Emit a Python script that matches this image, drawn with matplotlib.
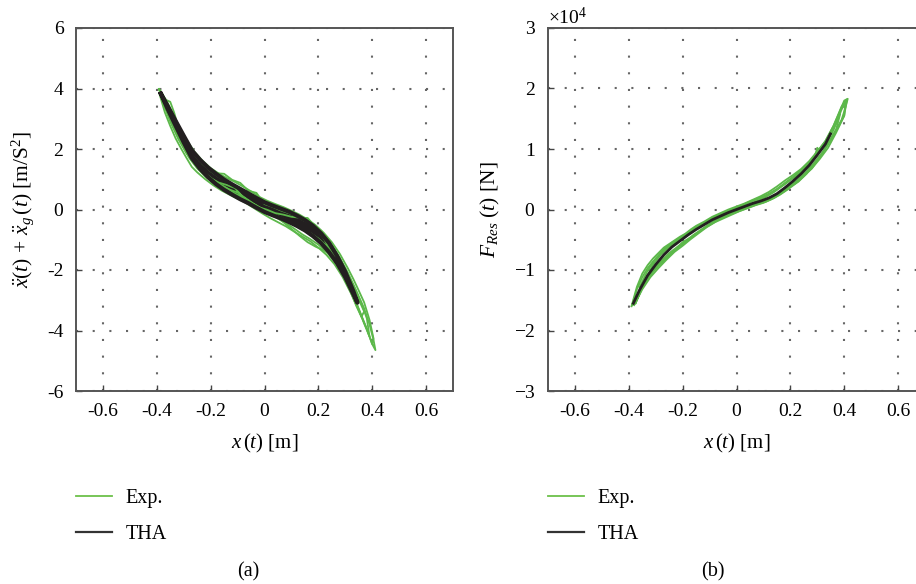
import numpy as np
import matplotlib
matplotlib.use("Agg")
import matplotlib.pyplot as plt
from matplotlib.lines import Line2D

# ---- data ----
# (a) acceleration loops [m/s^2] vs displacement [m]
tha_a_x = [-0.385, -0.36, -0.33, -0.30, -0.27, -0.24, -0.21, -0.18, -0.15, -0.12, -0.09, -0.06, -0.03,
           0.0, 0.03, 0.06, 0.09, 0.12, 0.15, 0.18, 0.21, 0.24, 0.27, 0.30, 0.33, 0.345]
tha_a_up = [3.83, 3.43, 2.93, 2.44, 1.96, 1.65, 1.39, 1.18, 0.99, 0.83, 0.68, 0.53, 0.38,
            0.24, 0.13, 0.03, -0.07, -0.20, -0.35, -0.54, -0.79, -1.11, -1.54, -2.06, -2.70, -3.08]
tha_a_lo = [3.83, 3.33, 2.77, 2.22, 1.70, 1.35, 1.07, 0.84, 0.65, 0.49, 0.34, 0.21, 0.06,
            -0.08, -0.19, -0.29, -0.41, -0.54, -0.69, -0.88, -1.11, -1.41, -1.78, -2.24, -2.80, -3.08]

exp_a1_x = [-0.392, -0.37, -0.34, -0.31, -0.28, -0.25, -0.22, -0.19, -0.16, -0.13, -0.10, -0.07, -0.04, -0.01,
            0.02, 0.05, 0.08, 0.11, 0.14, 0.17, 0.20, 0.23, 0.26, 0.29, 0.32, 0.35, 0.38, 0.40, 0.412,
            0.405, 0.39, 0.37, 0.34, 0.31, 0.28, 0.25, 0.22, 0.19, 0.16, 0.13, 0.10, 0.07, 0.04, 0.01,
            -0.02, -0.05, -0.08, -0.11, -0.14, -0.17, -0.20, -0.23, -0.26, -0.29, -0.32, -0.35, -0.38, -0.392]
exp_a1_y = [3.98, 3.36, 2.75, 2.20, 1.71, 1.36, 1.10, 0.88, 0.70, 0.56, 0.44, 0.32, 0.17, 0.01,
            -0.15, -0.30, -0.45, -0.63, -0.82, -0.98, -1.16, -1.40, -1.71, -2.13, -2.65, -3.28, -3.95, -4.45, -4.65,
            -4.32, -3.80, -3.27, -2.67, -2.10, -1.60, -1.18, -0.87, -0.62, -0.43, -0.28, -0.15, -0.02, 0.10, 0.22,
            0.35, 0.52, 0.66, 0.79, 0.92, 1.08, 1.27, 1.51, 1.83, 2.24, 2.76, 3.29, 3.84, 3.98]

exp_a2_x = [-0.375, -0.35, -0.32, -0.29, -0.26, -0.23, -0.20, -0.17, -0.14, -0.11, -0.08, -0.05, -0.02, 0.01,
            0.04, 0.07, 0.10, 0.13, 0.16, 0.19, 0.22, 0.25, 0.28, 0.31, 0.34, 0.37, 0.39,
            0.38, 0.36, 0.33, 0.30, 0.27, 0.24, 0.21, 0.18, 0.15, 0.12, 0.09, 0.06, 0.03, 0.0,
            -0.03, -0.06, -0.09, -0.12, -0.15, -0.18, -0.21, -0.24, -0.27, -0.30, -0.33, -0.36, -0.375]
exp_a2_y = [3.55, 2.91, 2.33, 1.86, 1.51, 1.26, 1.05, 0.86, 0.71, 0.53, 0.41, 0.22, 0.05, -0.06,
            -0.22, -0.42, -0.64, -0.87, -1.08, -1.23, -1.35, -1.53, -1.87, -2.55, -3.07, -3.77, -4.20,
            -3.60, -3.10, -2.50, -1.95, -1.48, -1.05, -0.70, -0.47, -0.34, -0.22, -0.12, -0.03, 0.09, 0.18,
            0.55, 0.62, 0.88, 0.98, 1.18, 1.20, 1.40, 1.60, 1.93, 2.41, 2.95, 3.53, 3.70]

exp_a3_x = [-0.385, -0.365, -0.35, -0.335, -0.31, -0.28, -0.25, -0.22, -0.19, -0.16, -0.13, -0.10, -0.07, -0.04,
            -0.01, 0.02, 0.05, 0.08, 0.11, 0.14, 0.17, 0.20, 0.23, 0.26, 0.29, 0.32, 0.35, 0.37,
            0.36, 0.34, 0.31, 0.28, 0.25, 0.22, 0.19, 0.16, 0.13, 0.10, 0.07, 0.04, 0.01,
            -0.02, -0.05, -0.08, -0.11, -0.14, -0.17, -0.20, -0.23, -0.26, -0.29, -0.32, -0.35, -0.38]
exp_a3_y = [3.88, 3.62, 3.56, 3.19, 2.40, 1.79, 1.43, 1.17, 0.96, 0.78, 0.66, 0.56, 0.37, 0.19,
            0.03, -0.10, -0.22, -0.35, -0.51, -0.67, -0.78, -0.96, -1.20, -1.51, -1.88, -2.40, -2.98, -3.37,
            -3.55, -3.17, -2.50, -1.92, -1.43, -0.95, -0.58, -0.28, -0.27, -0.24, -0.17, -0.12, -0.01,
            0.07, 0.22, 0.41, 0.71, 0.81, 0.89, 1.03, 1.26, 1.53, 1.91, 2.46, 3.03, 3.64]

exp_a4_x = [-0.39, -0.37, -0.35, -0.33, -0.31, -0.29, -0.27, -0.25, -0.22, -0.19, -0.16, -0.13, -0.10, -0.07,
            -0.04, -0.01, 0.02, 0.05, 0.08, 0.11, 0.14, 0.17, 0.20, 0.23, 0.26, 0.29, 0.32, 0.35, 0.38, 0.40,
            0.405, 0.39, 0.37, 0.35, 0.33, 0.31, 0.28, 0.25, 0.22, 0.19, 0.16, 0.13, 0.10, 0.07, 0.04, 0.01,
            -0.02, -0.05, -0.08, -0.11, -0.14, -0.17, -0.20, -0.23, -0.26, -0.29, -0.32, -0.35, -0.37, -0.39]
exp_a4_y = [3.82, 3.21, 2.76, 2.35, 2.02, 1.71, 1.41, 1.23, 1.00, 0.80, 0.63, 0.49, 0.36, 0.22,
            0.05, -0.12, -0.28, -0.42, -0.56, -0.73, -0.89, -1.05, -1.26, -1.50, -1.81, -2.23, -2.75, -3.33, -3.95, -4.45,
            -4.27, -3.65, -3.07, -2.68, -2.30, -1.95, -1.47, -1.08, -0.77, -0.52, -0.33, -0.17, -0.04, 0.08, 0.18, 0.29,
            0.42, 0.60, 0.76, 0.91, 1.04, 1.19, 1.37, 1.61, 1.91, 2.31, 2.80, 3.31, 3.66, 3.97]

# (b) restoring force loops [x1e4 N] vs displacement [m]
tha_b_x = [-0.383, -0.36, -0.33, -0.30, -0.27, -0.24, -0.21, -0.18, -0.15, -0.12, -0.09, -0.06, -0.03,
           0.0, 0.03, 0.06, 0.09, 0.12, 0.15, 0.18, 0.21, 0.24, 0.27, 0.30, 0.33, 0.349]
tha_b_y = [-1.55, -1.33, -1.09, -0.91, -0.75, -0.62, -0.52, -0.42, -0.33, -0.25, -0.17, -0.11, -0.05,
           0.0, 0.05, 0.10, 0.14, 0.19, 0.26, 0.36, 0.47, 0.59, 0.73, 0.90, 1.08, 1.25]

exp_b1_x = [-0.387, -0.37, -0.35, -0.33, -0.31, -0.29, -0.27, -0.25, -0.23, -0.21, -0.19, -0.17, -0.15, -0.12,
            -0.09, -0.06, -0.03, 0.0, 0.03, 0.06, 0.09, 0.12, 0.15, 0.18, 0.21, 0.24, 0.27, 0.30, 0.33, 0.36,
            0.38, 0.40, 0.413,
            0.405, 0.39, 0.37, 0.35, 0.32, 0.29, 0.26, 0.23, 0.20, 0.17, 0.14, 0.11, 0.08, 0.05, 0.02, -0.01,
            -0.04, -0.07, -0.10, -0.13, -0.16, -0.19, -0.22, -0.25, -0.28, -0.31, -0.34, -0.37, -0.387]
exp_b1_y = [-1.58, -1.32, -1.12, -0.97, -0.86, -0.77, -0.68, -0.61, -0.55, -0.48, -0.43, -0.36, -0.29, -0.22,
            -0.14, -0.08, -0.02, 0.03, 0.09, 0.15, 0.20, 0.26, 0.34, 0.44, 0.54, 0.65, 0.78, 0.95, 1.13, 1.38,
            1.58, 1.80, 1.83,
            1.69, 1.48, 1.32, 1.17, 0.95, 0.77, 0.59, 0.46, 0.38, 0.28, 0.19, 0.13, 0.09, 0.04, -0.01, -0.06,
            -0.11, -0.18, -0.26, -0.34, -0.44, -0.54, -0.64, -0.75, -0.87, -1.02, -1.21, -1.46, -1.58]

exp_b2_x = [-0.375, -0.355, -0.335, -0.31, -0.28, -0.25, -0.22, -0.19, -0.16, -0.13, -0.10, -0.07, -0.04, -0.01,
            0.02, 0.05, 0.08, 0.11, 0.14, 0.17, 0.20, 0.23, 0.26, 0.29, 0.30, 0.31, 0.33, 0.36, 0.385,
            0.37, 0.34, 0.31, 0.28, 0.25, 0.22, 0.19, 0.16, 0.13, 0.10, 0.07, 0.04, 0.01,
            -0.02, -0.05, -0.08, -0.11, -0.14, -0.17, -0.20, -0.23, -0.26, -0.29, -0.32, -0.35, -0.375]
exp_b2_y = [-1.55, -1.34, -1.13, -0.91, -0.74, -0.62, -0.52, -0.45, -0.35, -0.25, -0.18, -0.11, -0.07, -0.02,
            0.03, 0.09, 0.15, 0.21, 0.29, 0.39, 0.49, 0.58, 0.71, 0.87, 1.02, 0.96, 1.08, 1.33, 1.58,
            1.32, 1.08, 0.87, 0.68, 0.56, 0.46, 0.34, 0.25, 0.18, 0.14, 0.10, 0.04, 0.0,
            -0.06, -0.13, -0.18, -0.27, -0.37, -0.46, -0.54, -0.67, -0.81, -0.93, -1.08, -1.29, -1.55]

exp_b3_x = [-0.36, -0.33, -0.30, -0.27, -0.24, -0.21, -0.18, -0.15, -0.12, -0.09, -0.06, -0.03, 0.0,
            0.03, 0.06, 0.09, 0.12, 0.15, 0.18, 0.21, 0.24, 0.27, 0.30, 0.33, 0.36, 0.39, 0.41,
            0.40, 0.38, 0.35, 0.32, 0.29, 0.26, 0.23, 0.20, 0.17, 0.14, 0.11, 0.08, 0.05, 0.02,
            -0.01, -0.04, -0.07, -0.10, -0.13, -0.16, -0.19, -0.22, -0.25, -0.28, -0.31, -0.34, -0.36]
exp_b3_y = [-1.28, -1.01, -0.81, -0.66, -0.55, -0.47, -0.38, -0.30, -0.23, -0.15, -0.09, -0.03, 0.02,
            0.08, 0.14, 0.19, 0.25, 0.33, 0.42, 0.52, 0.63, 0.76, 0.92, 1.08, 1.31, 1.65, 1.82,
            1.55, 1.38, 1.15, 0.94, 0.78, 0.63, 0.50, 0.40, 0.30, 0.21, 0.14, 0.11, 0.06, 0.01,
            -0.04, -0.10, -0.16, -0.24, -0.33, -0.42, -0.53, -0.62, -0.72, -0.85, -1.00, -1.20, -1.38]

exp_b4_x = [-0.39, -0.37, -0.35, -0.33, -0.31, -0.29, -0.27, -0.25, -0.23, -0.21, -0.19, -0.17, -0.15, -0.12,
            -0.09, -0.06, -0.03, 0.0, 0.03, 0.06, 0.09, 0.12, 0.15, 0.18, 0.21, 0.24, 0.27, 0.30, 0.33, 0.36,
            0.39, 0.405,
            0.40, 0.37, 0.34, 0.31, 0.28, 0.25, 0.22, 0.19, 0.16, 0.13, 0.10, 0.07, 0.04, 0.01,
            -0.02, -0.05, -0.08, -0.11, -0.14, -0.17, -0.20, -0.23, -0.26, -0.29, -0.32, -0.35, -0.38]
exp_b4_y = [-1.60, -1.28, -1.06, -0.92, -0.81, -0.72, -0.63, -0.57, -0.51, -0.45, -0.40, -0.33, -0.27, -0.20,
            -0.12, -0.06, 0.0, 0.05, 0.10, 0.16, 0.22, 0.29, 0.38, 0.48, 0.57, 0.67, 0.80, 0.96, 1.13, 1.38,
            1.70, 1.80,
            1.55, 1.27, 1.02, 0.84, 0.68, 0.55, 0.43, 0.33, 0.24, 0.17, 0.11, 0.07, 0.02, -0.03,
            -0.09, -0.15, -0.21, -0.29, -0.39, -0.49, -0.60, -0.70, -0.83, -0.97, -1.12, -1.32, -1.58]

F_SCALE = 1e4
x_ticks = [-0.6, -0.4, -0.2, 0, 0.2, 0.4, 0.6]
x_ticklabels = ["-0.6", "-0.4", "-0.2", "0", "0.2", "0.4", "0.6"]
ya_ticks = [-6, -4, -2, 0, 2, 4, 6]
yb_ticks = [-3, -2, -1, 0, 1, 2, 3]

# ---- style ----
plt.rcParams["font.family"] = ["Liberation Serif", "DejaVu Serif"]
plt.rcParams["mathtext.fontset"] = "custom"
plt.rcParams["mathtext.rm"] = "Liberation Serif"
plt.rcParams["mathtext.it"] = "Liberation Serif:italic"
plt.rcParams["axes.unicode_minus"] = False
plt.rcParams["font.size"] = 14

GREEN = "#5cb84a"
BLACK = "#231f20"
GRID = "#666666"

fig = plt.figure(figsize=(9.16, 5.84), dpi=100)
ax_a = fig.add_axes([76 / 916, 193 / 584, 377 / 916, 363 / 584])
ax_b = fig.add_axes([548 / 916, 193 / 584, 377 / 916, 363 / 584])


def style_axes(ax, yticks):
    ax.set_xlim(-0.7, 0.7)
    ax.set_ylim(yticks[0], yticks[-1])
    ax.set_xticks(x_ticks)
    ax.set_xticklabels(x_ticklabels)
    ax.set_yticks(yticks)
    ax.grid(True, color=GRID, linestyle=(0, (1, 7)), linewidth=1.5)
    ax.set_axisbelow(True)
    ax.tick_params(direction="in", length=4, width=1, color="#444444", pad=9, labelsize=14)
    for s in ax.spines.values():
        s.set_color("#555555")
        s.set_linewidth(1.4)
    ax.set_xlabel(r"$x\,(t)$ [m]", labelpad=8, fontsize=15)


# (a)
style_axes(ax_a, ya_ticks)
for xs, ys in [(exp_a1_x, exp_a1_y), (exp_a2_x, exp_a2_y), (exp_a3_x, exp_a3_y), (exp_a4_x, exp_a4_y)]:
    ax_a.plot(xs, ys, color=GREEN, lw=1.3)
ax_a.plot(tha_a_x + tha_a_x[::-1], tha_a_up + tha_a_lo[::-1], color=BLACK, lw=3.0, solid_joinstyle="round")
ax_a.fill_between(tha_a_x, tha_a_lo, tha_a_up, color=BLACK, lw=0)
ax_a.set_ylabel(r"$\ddot{x}(t)\,+\,\ddot{x}_g\,(t)$ [m/S$^2$]", labelpad=8, fontsize=15.5)

# (b)
style_axes(ax_b, [v * F_SCALE for v in yb_ticks])
ax_b.ticklabel_format(axis="y", style="sci", scilimits=(0, 0), useMathText=True)
for xs, ys in [(exp_b1_x, exp_b1_y), (exp_b2_x, exp_b2_y), (exp_b3_x, exp_b3_y), (exp_b4_x, exp_b4_y)]:
    ax_b.plot(xs, np.array(ys) * F_SCALE, color=GREEN, lw=1.3)
ax_b.plot(tha_b_x, np.array(tha_b_y) * F_SCALE, color=BLACK, lw=2.0)
ax_b.set_ylabel(r"$F_{Res}\ (t)$ [N]", labelpad=8, fontsize=15.5)
ax_b.yaxis.get_offset_text().set_fontsize(14)

# legends below each panel
handles = [Line2D([], [], color="#6cc04a", lw=1.3), Line2D([], [], color="#333333", lw=1.6)]
for ax in (ax_a, ax_b):
    ax.legend(handles, ["Exp.", "THA"], loc="upper left", bbox_to_anchor=(0, -0.27),
              frameon=False, borderpad=0, borderaxespad=0, handlelength=1.8,
              handletextpad=0.65, labelspacing=0.85, fontsize=14.5)

fig.text(248 / 916, 1 - 572 / 584, "(a)", ha="center", va="center", fontsize=14.5)
fig.text(713 / 916, 1 - 572 / 584, "(b)", ha="center", va="center", fontsize=14.5)

fig.savefig("out.png", dpi=100)
